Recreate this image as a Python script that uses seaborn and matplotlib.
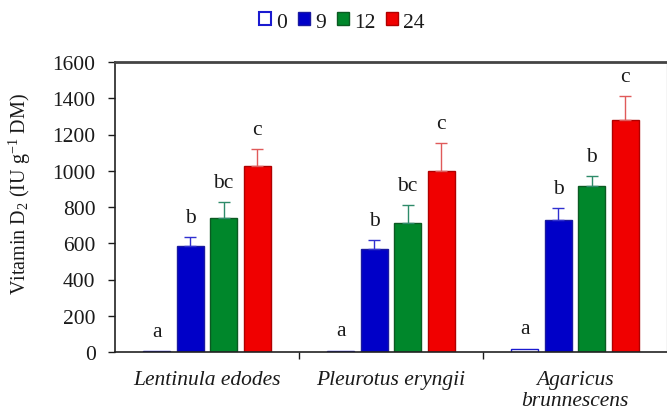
import numpy as np
import pandas as pd
import matplotlib
matplotlib.use("Agg")
import matplotlib.pyplot as plt
from matplotlib.patches import Patch
from matplotlib.container import BarContainer
import seaborn as sns

# Species and UV exposure times (hours)
species = ["Lentinula edodes", "Pleurotus eryngii", "Agaricus\nbrunnescens"]
hours = ["0", "9", "12", "24"]

# Mean vitamin D2 content (IU g-1 DM) per exposure time, one value per species
d2_0h = [5, 8, 18]
d2_9h = [586, 566, 728]
d2_12h = [739, 712, 918]
d2_24h = [1024, 997, 1280]

# Standard deviations
sd_0h = [3, 3, 5]
sd_9h = [47, 50, 65]
sd_12h = [87, 97, 51]
sd_24h = [96, 154, 130]

# Significance letters
let_0h = ["a", "a", "a"]
let_9h = ["b", "b", "b"]
let_12h = ["bc", "bc", "b"]
let_24h = ["c", "c", "c"]

means = [d2_0h, d2_9h, d2_12h, d2_24h]
sds = [sd_0h, sd_9h, sd_12h, sd_24h]
letters = [let_0h, let_9h, let_12h, let_24h]

df = pd.DataFrame(
    [(sp, h, means[i][j]) for i, h in enumerate(hours) for j, sp in enumerate(species)],
    columns=["species", "hours", "d2"],
)

sns.set_style("white")
plt.rcParams["font.family"] = ["Liberation Serif", "DejaVu Serif"]
plt.rcParams["mathtext.fontset"] = "custom"
plt.rcParams["mathtext.rm"] = "Liberation Serif"
plt.rcParams["mathtext.it"] = "Liberation Serif:italic"

face = ["#FFFFFF", "#0000C8", "#00872B", "#F00000"]
edge = ["#1A1AD0", "#1A1AA0", "#0B5A22", "#B00000"]
errc = ["#2B2BD8", "#3030D0", "#2E8B6A", "#E05A5A"]
ink = "#1A1A1A"

fig = plt.figure(figsize=(6.67, 4.10), dpi=100)
ax = fig.add_axes([115 / 667, 57 / 410, 552 / 667, 290 / 410])

sns.barplot(data=df, x="species", y="d2", hue="hours", order=species,
            hue_order=hours, palette=face[1:2] * 4, errorbar=None,
            width=0.725, gap=0.19, legend=False, ax=ax)

bar_groups = [c for c in ax.containers if isinstance(c, BarContainer)]
for k, cont in enumerate(bar_groups):
    for j, bar in enumerate(cont.patches):
        bar.set_facecolor(face[k])
        bar.set_edgecolor(edge[k])
        bar.set_linewidth(1.0)
        cx = bar.get_x() + bar.get_width() / 2
        m = means[k][j]
        s = sds[k][j]
        if k > 0:
            ax.errorbar(cx, m, yerr=[[0], [s]], fmt="none", ecolor=errc[k],
                        elinewidth=1.0, capsize=4, capthick=1.0, zorder=3)
        ax.text(cx, m + s + 55, letters[k][j], ha="center", va="bottom",
                fontsize=15.5, color=ink)

ax.set_ylim(0, 1600)
ax.set_xlim(-0.5, 2.5)
ax.set_yticks(np.arange(0, 1601, 200))
ax.tick_params(axis="y", which="major", direction="out", length=5, width=1,
               labelsize=15.5, left=True, pad=9, colors=ink)
ax.set_xticks([0, 1, 2])
ax.set_xticklabels(species, fontstyle="italic", fontsize=15.5, color=ink,
                   linespacing=1.15)
ax.tick_params(axis="x", which="major", length=0, pad=13)
ax.set_xticks([0.5, 1.5], minor=True)
ax.tick_params(axis="x", which="minor", direction="out", length=5, width=1,
               bottom=True, color=ink)
ax.set_xlabel("")
ax.set_ylabel(r"Vitamin D$_2$ (IU g$^{-1}$ DM)", fontsize=14.5, color=ink)
ax.yaxis.set_label_coords(-0.148, 0.55)

for side in ["left", "bottom"]:
    ax.spines[side].set_color("#222222")
    ax.spines[side].set_linewidth(1.2)
ax.spines["top"].set_linewidth(2.0)
ax.spines["top"].set_color("#444444")
ax.spines["right"].set_color("#CCCCCC")
ax.spines["right"].set_linewidth(1.0)

handles = [Patch(facecolor=face[k], edgecolor=edge[k] if k else "#1A1AD0",
                 linewidth=1.5 if k == 0 else 1.0, label=h)
           for k, h in enumerate(hours)]
fig.legend(handles=handles, loc="center", bbox_to_anchor=(342 / 667, 1 - 23 / 410),
           ncol=4, frameon=False, fontsize=15.5, handlelength=0.55, handleheight=0.55,
           handletextpad=0.25, columnspacing=0.5, labelcolor=ink)

fig.savefig("out.png", dpi=100)
